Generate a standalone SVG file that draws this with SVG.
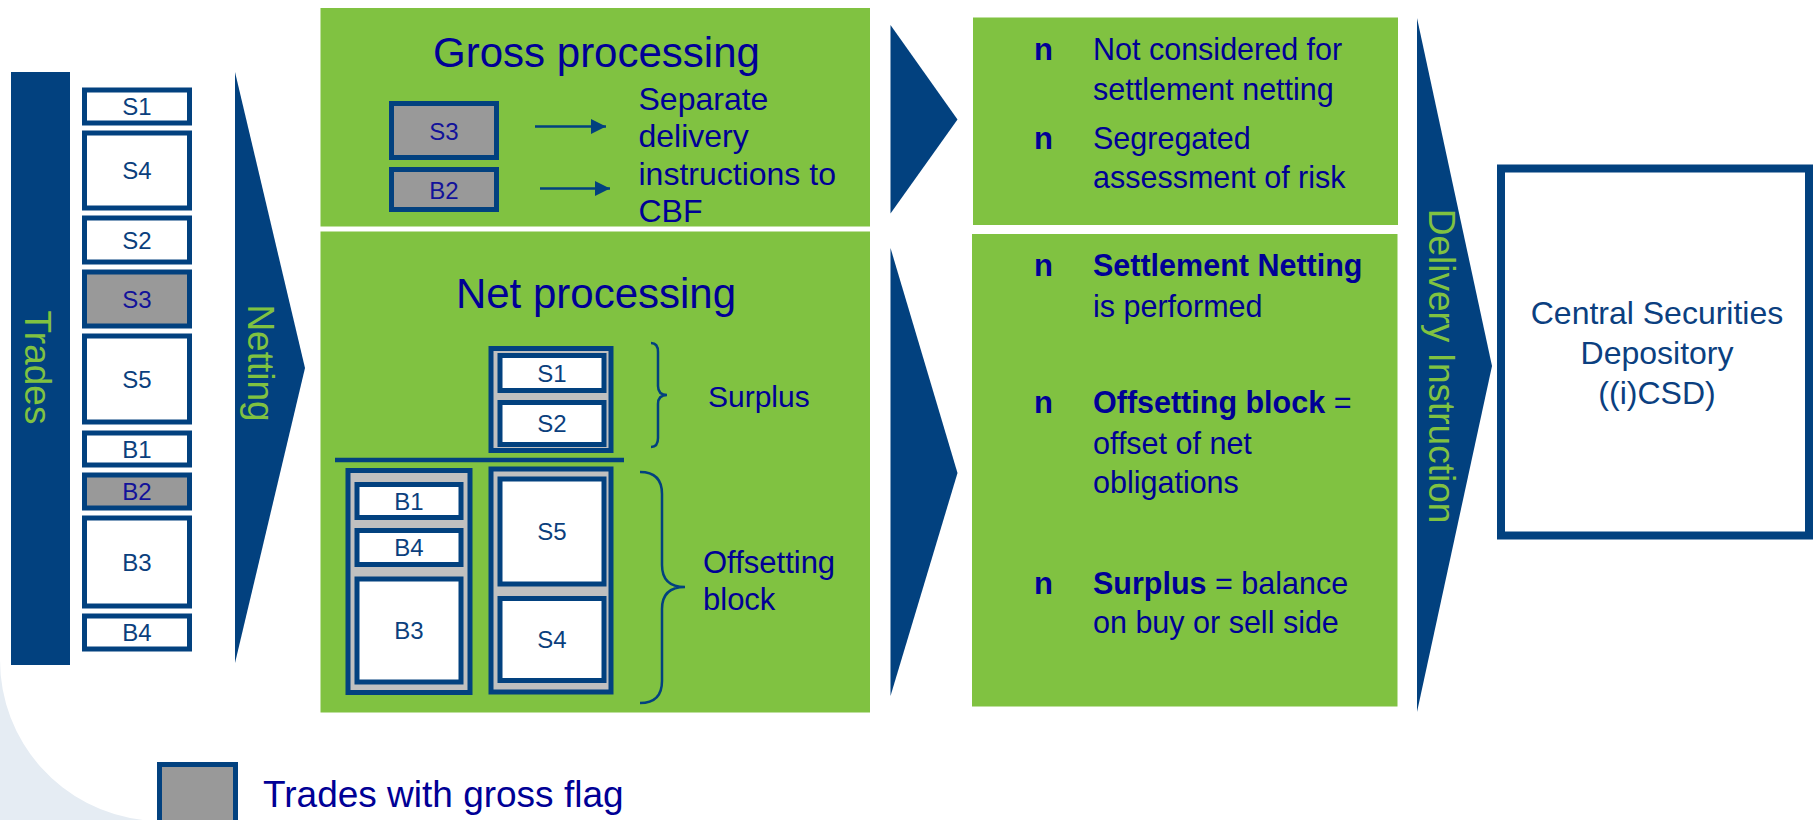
<svg xmlns="http://www.w3.org/2000/svg" width="1813" height="820" viewBox="0 0 1813 820">
<defs>
<style>
.bl{fill:#02417f}
.panel{fill:#80c241}
.box{fill:#fff;stroke:#02417f;stroke-width:5}
.gbox{fill:#999;stroke:#02417f;stroke-width:5}
.cont{fill:#c0c0c0;stroke:#02417f;stroke-width:5}
.lbl{font-family:"Liberation Sans",Arial,sans-serif;font-size:24px;fill:#0b3f7d;text-anchor:middle}
.glbl{fill:#12129a}
.t{font-family:"Liberation Sans",Arial,sans-serif;fill:#000096}
.pt{font-family:"Liberation Sans",Arial,sans-serif;font-size:30.5px;fill:#000096}
.bul{font-family:"Liberation Sans",Arial,sans-serif;font-size:31px;font-weight:bold;fill:#000096}
.vt{font-family:"Liberation Sans",Arial,sans-serif;font-size:37px;fill:#80c241;text-anchor:middle}
.brace{fill:none;stroke:#02417f;stroke-width:2.5}
.arr{stroke:#02417f;stroke-width:2.5;fill:none}
</style>
<marker id="ah" markerUnits="userSpaceOnUse" markerWidth="15" markerHeight="15" viewBox="0 0 15 15" refX="15" refY="7.5" orient="auto">
<path d="M0,0 L15,7.5 L0,15 Z" fill="#02417f"/>
</marker>
</defs>
<rect width="1813" height="820" fill="#fff"/>
<path d="M0,660 A161,161 0 0 0 143,820 L0,820 Z" fill="#e5ecf3"/>

<g id="trades">
<rect class="bl" x="11" y="72" width="59" height="593"/>
<text class="vt" transform="translate(25,367.5) rotate(90)">Trades</text>
</g>

<g id="trade-list">
<rect class="box" x="84.5" y="90" width="105" height="33"/><text class="lbl" x="137" y="115">S1</text>
<rect class="box" x="84.5" y="133" width="105" height="75"/><text class="lbl" x="137" y="179">S4</text>
<rect class="box" x="84.5" y="218" width="105" height="44"/><text class="lbl" x="137" y="248.5">S2</text>
<rect class="gbox" x="84.5" y="272" width="105" height="54"/><text class="lbl glbl" x="137" y="307.5">S3</text>
<rect class="box" x="84.5" y="336" width="105" height="86"/><text class="lbl" x="137" y="387.5">S5</text>
<rect class="box" x="84.5" y="433" width="105" height="32"/><text class="lbl" x="137" y="457.5">B1</text>
<rect class="gbox" x="84.5" y="475" width="105" height="33"/><text class="lbl glbl" x="137" y="500">B2</text>
<rect class="box" x="84.5" y="518" width="105" height="88"/><text class="lbl" x="137" y="570.5">B3</text>
<rect class="box" x="84.5" y="616" width="105" height="33"/><text class="lbl" x="137" y="641">B4</text>
</g>

<g id="netting">
<polygon class="bl" points="235,72 305,368 235,663"/>
<text class="vt" transform="translate(248,363) rotate(90)">Netting</text>
</g>

<g id="gross-processing">
<rect class="panel" x="320.5" y="8" width="549.5" height="218.5"/>
<text class="t" x="596.5" y="67" font-size="42" text-anchor="middle">Gross processing</text>
<rect class="gbox" x="391.5" y="103.5" width="105" height="54"/><text class="lbl glbl" x="444" y="139.5" font-size="25">S3</text>
<rect class="gbox" x="391.5" y="169.5" width="105" height="40"/><text class="lbl glbl" x="444" y="198.5" font-size="25">B2</text>
<text class="t" font-size="32"><tspan x="638.5" y="110">Separate</tspan><tspan x="638.5" y="147">delivery</tspan><tspan x="638.5" y="185">instructions to</tspan><tspan x="638.5" y="222">CBF</tspan></text>
</g>

<g id="net-processing">
<rect class="panel" x="320.5" y="231.5" width="549.5" height="481"/>
<text class="t" x="596" y="308" font-size="42" text-anchor="middle">Net processing</text>
<rect class="cont" x="491" y="348.5" width="120" height="102"/>
<rect class="box" x="500" y="355.5" width="104" height="35"/><text class="lbl" x="552" y="381.5" font-size="25">S1</text>
<rect class="box" x="500" y="402.5" width="104" height="42"/><text class="lbl" x="552" y="432" font-size="25">S2</text>
<line x1="335" y1="460" x2="624" y2="460" stroke="#02417f" stroke-width="4.5"/>
<rect class="cont" x="348" y="470.5" width="122" height="222"/>
<rect class="box" x="357" y="484.5" width="104" height="33"/><text class="lbl" x="409" y="509.5" font-size="25">B1</text>
<rect class="box" x="357" y="530.5" width="104" height="34"/><text class="lbl" x="409" y="556" font-size="25">B4</text>
<rect class="box" x="357" y="579" width="104" height="103"/><text class="lbl" x="409" y="639" font-size="25">B3</text>
<rect class="cont" x="491" y="469" width="120" height="223"/>
<rect class="box" x="500" y="479" width="104" height="105"/><text class="lbl" x="552" y="540" font-size="25">S5</text>
<rect class="box" x="500" y="598.5" width="104" height="82"/><text class="lbl" x="552" y="648" font-size="25">S4</text>
<path class="brace" d="M651,343 Q658,343 658,352 L658,386 Q658,395 667,395 Q658,395 658,404 L658,438 Q658,447 651,447"/>
<text class="t" x="708" y="407" font-size="30">Surplus</text>
<path class="brace" d="M640,472 Q662,472 662,494 L662,565 Q662,587 685,587 Q662,587 662,609 L662,681 Q662,703 640,703"/>
<text class="t" font-size="31"><tspan x="703" y="573">Offsetting</tspan><tspan x="703" y="610">block</tspan></text>
</g>

<g id="gross-result">
<rect class="panel" x="973" y="17.5" width="425" height="207.5"/>
<text class="bul" x="1034" y="60">n</text>
<text class="pt"><tspan x="1093" y="60">Not considered for</tspan><tspan x="1093" y="100">settlement netting</tspan></text>
<text class="bul" x="1034" y="149">n</text>
<text class="pt"><tspan x="1093" y="149">Segregated</tspan><tspan x="1093" y="188">assessment of risk</tspan></text>
</g>

<g id="net-result">
<rect class="panel" x="972" y="234" width="425.5" height="472.5"/>
<text class="bul" x="1034" y="276">n</text>
<text class="pt"><tspan x="1093" y="276" font-weight="bold">Settlement Netting</tspan><tspan x="1093" y="317">is performed</tspan></text>
<text class="bul" x="1034" y="413">n</text>
<text class="pt"><tspan x="1093" y="413" font-weight="bold">Offsetting block</tspan><tspan> =</tspan><tspan x="1093" y="454">offset of net</tspan><tspan x="1093" y="493">obligations</tspan></text>
<text class="bul" x="1034" y="594">n</text>
<text class="pt"><tspan x="1093" y="594" font-weight="bold">Surplus</tspan><tspan> = balance</tspan><tspan x="1093" y="633">on buy or sell side</tspan></text>
</g>

<g id="delivery-instruction">
<polygon class="bl" points="1417,18 1492,366 1417,712"/>
<text class="vt" transform="translate(1429,366) rotate(90)">Delivery Instruction</text>
</g>

<g id="csd">
<rect x="1501" y="168.5" width="308" height="367" fill="#fff" stroke="#02417f" stroke-width="8"/>
<text font-family="'Liberation Sans',Arial,sans-serif" font-size="32" fill="#0b3f80" text-anchor="middle"><tspan x="1657" y="324">Central Securities</tspan><tspan x="1657" y="364">Depository</tspan><tspan x="1657" y="404">((i)CSD)</tspan></text>
</g>

<g id="connectors">
<polygon class="bl" points="890.5,25 957.5,119.5 890.5,213.5"/>
<polygon class="bl" points="890.5,248 957.5,473 890.5,696"/>
<line class="arr" x1="535" y1="126.5" x2="606" y2="126.5" marker-end="url(#ah)"/>
<line class="arr" x1="540" y1="188.5" x2="610" y2="188.5" marker-end="url(#ah)"/>
</g>

<g id="legend">
<rect class="gbox" x="159.5" y="764.5" width="76" height="70"/>
<text class="t" x="263" y="807" font-size="37">Trades with gross flag</text>
</g>
</svg>
